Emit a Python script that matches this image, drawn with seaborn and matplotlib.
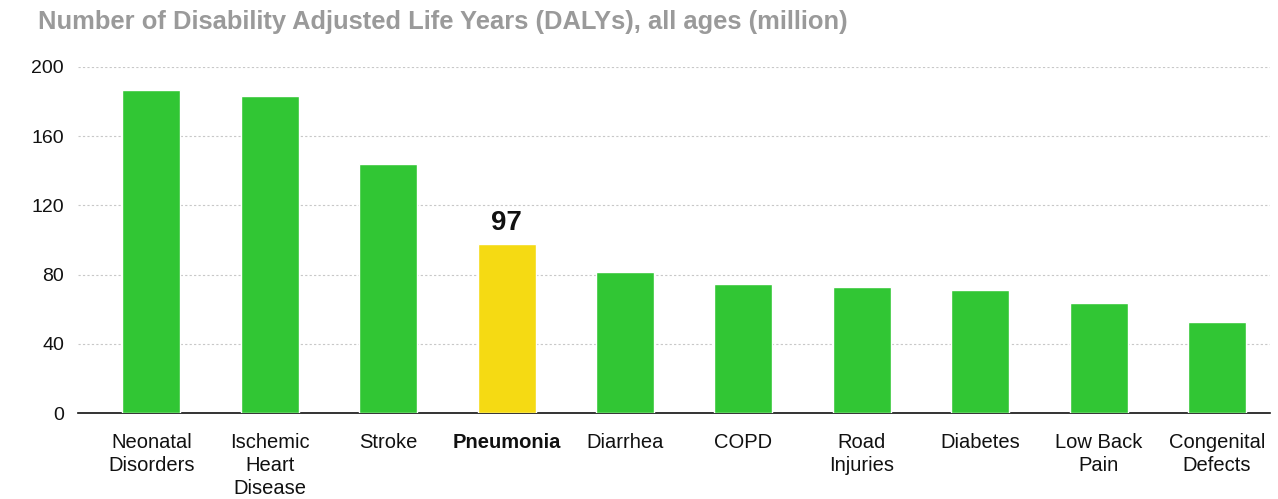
import matplotlib
matplotlib.use("Agg")
import matplotlib.pyplot as plt
import seaborn as sns
import pandas as pd

categories = ["Neonatal\nDisorders", "Ischemic\nHeart\nDisease", "Stroke", "Pneumonia",
              "Diarrhea", "COPD", "Road\nInjuries", "Diabetes", "Low Back\nPain", "Congenital\nDefects"]
values = [186.5, 183, 144, 97.5, 81.5, 74.5, 73, 71, 63.5, 52.5]
highlight = "Pneumonia"
yticks = [0, 40, 80, 120, 160, 200]

GREEN = "#31C634"
YELLOW = "#F5DA13"

sns.set_theme(style="white")
plt.rcParams["font.family"] = ["Liberation Sans", "DejaVu Sans"]

df = pd.DataFrame({"cat": categories, "val": values})
palette = [YELLOW if c == highlight else GREEN for c in categories]

fig = plt.figure(figsize=(12.78, 4.99), dpi=100)
ax = fig.add_axes([0.061, 0.172, 0.933, 0.694])
sns.barplot(data=df, x="cat", y="val", hue="cat", palette=palette, legend=False,
            width=0.49, saturation=1, ax=ax, zorder=3)

ax.set_ylim(0, 200)
ax.set_xlim(-0.62, 9.45)
ax.set_yticks(yticks)
ax.set_yticklabels([str(t) for t in yticks], fontsize=14, color="#111111")
ax.yaxis.grid(True, linestyle=(0, (2, 2)), color="#c8c8c8", linewidth=0.8, zorder=0)
ax.set_axisbelow(True)
for s in ["top", "right", "left"]:
    ax.spines[s].set_visible(False)
ax.spines["bottom"].set_color("#111111")
ax.spines["bottom"].set_linewidth(1.2)
ax.tick_params(axis="y", length=0, pad=10)
ax.tick_params(axis="x", length=0, pad=14)
ax.set_xlabel("")
ax.set_ylabel("")
ax.set_xticks(range(len(categories)))
ax.set_xticklabels(categories, fontsize=14.5, color="#111111", va="top", linespacing=1.27)
for lbl in ax.get_xticklabels():
    if lbl.get_text() == highlight:
        lbl.set_fontweight("bold")

hi = categories.index(highlight)
ax.text(hi, values[hi] + 5, f"{int(values[hi])}", ha="center", va="bottom",
        fontsize=20, fontweight="bold", color="#111111")

fig.text(0.03, 0.955, "Number of Disability Adjusted Life Years (DALYs), all ages (million)",
         fontsize=18.4, color="#9a9a9a", fontweight="bold", ha="left", va="center")

fig.savefig("out.png", dpi=100)
